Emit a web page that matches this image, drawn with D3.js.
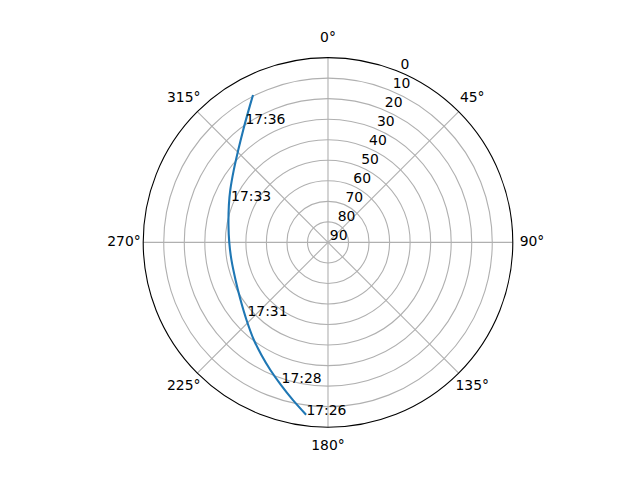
<!DOCTYPE html>
<html>
<head>
<meta charset="utf-8">
<script src="https://cdn.jsdelivr.net/npm/d3@7"></script>
<style>
  body { margin: 0; background: #fff; }
  text { font-family: "DejaVu Sans", sans-serif; font-size: 13.9px; fill: #000; }
</style>
</head>
<body>
<div id="chart"></div>
<script>
// pass track: azimuth (deg, clockwise from north) and elevation (deg)
const azimuth = [187.5, 192.6, 198.3, 204.3, 210.6, 217.2, 226.4, 236.6, 247.9, 259.7,
    270.2, 279.9, 290.7, 298.2, 307.6, 315.8, 323.0, 329.1, 332.8];
const elevation = [5.7, 11.4, 16.9, 21.8, 26.3, 30.3, 35.2, 39.0, 41.4, 42.2,
    41.9, 40.8, 38.4, 36.0, 32.1, 27.3, 21.4, 14.8, 9.8];

// time stamps written beside the track
const labelTimes = ["17:26", "17:28", "17:31", "17:33", "17:36"];
const labelAz = [187.5, 198.7, 228.3, 293.5, 325.0];
const labelEl = [5.7, 18.0, 36.8, 38.0, 19.0];

const thetaTicks = [0, 45, 90, 135, 180, 225, 270, 315];
const rTicks = [0, 10, 20, 30, 40, 50, 60, 70, 80, 90];

const width = 640;
const height = 480;
const cx = 328, cy = 242.4, R = 184.8;

const svg = d3.select('#chart')
    .append('svg')
    .attr('width', width)
    .attr('height', height);

const g = svg.append('g').attr('transform', `translate(${cx},${cy})`);

const rScale = d3.scaleLinear().domain([90, 0]).range([0, R]);
const toRad = (d) => d * Math.PI / 180;
const px = (a, e) => rScale(e) * Math.sin(toRad(a));
const py = (a, e) => -rScale(e) * Math.cos(toRad(a));

// circular grid
g.selectAll('circle.grid')
    .data(rTicks.filter(d => d > 0 && d < 90))
    .join('circle')
    .attr('class', 'grid')
    .attr('r', d => rScale(d))
    .attr('fill', 'none')
    .attr('stroke', '#b0b0b0')
    .attr('stroke-width', 1.1);

// spokes
g.selectAll('line.spoke')
    .data(thetaTicks)
    .join('line')
    .attr('class', 'spoke')
    .attr('x1', 0).attr('y1', 0)
    .attr('x2', d => R * Math.sin(toRad(d)))
    .attr('y2', d => -R * Math.cos(toRad(d)))
    .attr('stroke', '#b0b0b0')
    .attr('stroke-width', 1.1);

// track
const line = d3.lineRadial()
    .angle(d => toRad(d[0]))
    .radius(d => rScale(d[1]))
    .curve(d3.curveCatmullRom.alpha(0.5));

const track = azimuth.map((a, i) => [a, elevation[i]]);

g.append('path')
    .datum(track)
    .attr('fill', 'none')
    .attr('stroke', '#1f77b4')
    .attr('stroke-width', 2.1)
    .attr('stroke-linecap', 'square')
    .attr('d', line);

// outer spine
g.append('circle')
    .attr('r', R)
    .attr('fill', 'none')
    .attr('stroke', '#000')
    .attr('stroke-width', 1.1);

// time annotations
g.selectAll('text.time')
    .data(labelTimes)
    .join('text')
    .attr('class', 'time')
    .attr('x', (d, i) => px(labelAz[i], labelEl[i]) + 1)
    .attr('y', (d, i) => py(labelAz[i], labelEl[i]) + 1)
    .text(d => d);

// angle labels
g.selectAll('text.theta')
    .data(thetaTicks)
    .join('text')
    .attr('class', 'theta')
    .attr('text-anchor', 'middle')
    .attr('x', d => 204 * Math.sin(toRad(d)))
    .attr('y', d => -204 * Math.cos(toRad(d)) + 3.5)
    .text(d => d + '°');

// radial labels along 22.5°
const rAng = toRad(22.5);
g.selectAll('text.rlab')
    .data(rTicks)
    .join('text')
    .attr('class', 'rlab')
    .attr('x', d => rScale(d) * Math.sin(rAng) + 1.8)
    .attr('y', d => -rScale(d) * Math.cos(rAng) - 2.8)
    .text(d => d);
</script>
</body>
</html>
